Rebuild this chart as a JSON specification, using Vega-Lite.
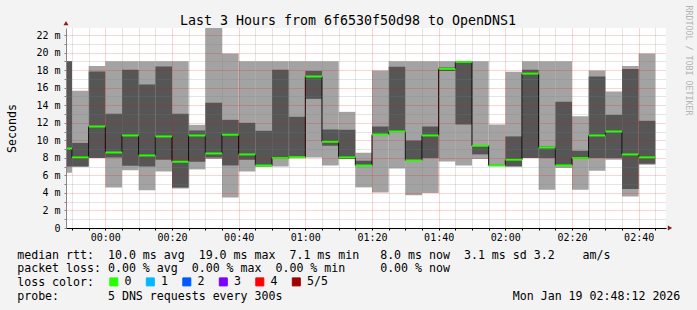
{
  "$schema": "https://vega.github.io/schema/vega-lite/v6.json",
  "width": 600,
  "height": 200,
  "autosize": {"type": "none"},
  "padding": {"left": 66, "top": 28, "right": 31, "bottom": 82},
  "background": "#f3f3f3",
  "config": {"view": {"fill": "#ffffff", "stroke": null}, "font": "DejaVu Sans Mono"},
  "datasets": {
    "smoke": [
      {"start": -15, "end": -10, "p1": 6.3, "p2": 7.0, "p3": 9.07, "p4": 19.0, "p5": 19.0, "loss": "0"},
      {"start": -10, "end": -5, "p1": 7.0, "p2": 7.0, "p3": 8.05, "p4": 9.7, "p5": 15.64, "loss": "0"},
      {"start": -5, "end": 0, "p1": 7.97, "p2": 7.97, "p3": 11.57, "p4": 17.84, "p5": 18.48, "loss": "0"},
      {"start": 0, "end": 5, "p1": 4.63, "p2": 8.05, "p3": 8.61, "p4": 13.02, "p5": 19.0, "loss": "0"},
      {"start": 5, "end": 10, "p1": 6.57, "p2": 7.1, "p3": 10.55, "p4": 18.03, "p5": 19.0, "loss": "0"},
      {"start": 10, "end": 15, "p1": 4.29, "p2": 7.02, "p3": 8.27, "p4": 16.36, "p5": 19.0, "loss": "0"},
      {"start": 15, "end": 20, "p1": 6.45, "p2": 7.78, "p3": 10.44, "p4": 18.4, "p5": 19.0, "loss": "0"},
      {"start": 20, "end": 25, "p1": 4.5, "p2": 4.63, "p3": 7.55, "p4": 13.02, "p5": 19.0, "loss": "0"},
      {"start": 25, "end": 30, "p1": 6.68, "p2": 7.55, "p3": 10.55, "p4": 11.12, "p5": 11.76, "loss": "0"},
      {"start": 30, "end": 35, "p1": 7.86, "p2": 8.05, "p3": 8.5, "p4": 14.27, "p5": 23.5, "loss": "0"},
      {"start": 35, "end": 40, "p1": 3.49, "p2": 7.13, "p3": 10.63, "p4": 12.33, "p5": 19.89, "loss": "0"},
      {"start": 40, "end": 45, "p1": 6.45, "p2": 7.78, "p3": 8.39, "p4": 11.99, "p5": 19.0, "loss": "0"},
      {"start": 45, "end": 50, "p1": 7.02, "p2": 7.02, "p3": 7.13, "p4": 11.08, "p5": 19.0, "loss": "0"},
      {"start": 50, "end": 55, "p1": 7.02, "p2": 7.97, "p3": 7.97, "p4": 18.03, "p5": 19.0, "loss": "0"},
      {"start": 55, "end": 60, "p1": 7.97, "p2": 7.97, "p3": 8.08, "p4": 12.68, "p5": 19.0, "loss": "0"},
      {"start": 60, "end": 65, "p1": 8.05, "p2": 14.72, "p3": 17.27, "p4": 17.91, "p5": 19.0, "loss": "0"},
      {"start": 65, "end": 70, "p1": 7.13, "p2": 9.37, "p3": 9.83, "p4": 11.23, "p5": 19.0, "loss": "0"},
      {"start": 70, "end": 75, "p1": 7.86, "p2": 7.86, "p3": 8.05, "p4": 11.2, "p5": 13.24, "loss": "0"},
      {"start": 75, "end": 80, "p1": 4.63, "p2": 7.13, "p3": 7.13, "p4": 7.67, "p5": 8.58, "loss": "0"},
      {"start": 80, "end": 85, "p1": 4.06, "p2": 10.66, "p3": 10.66, "p4": 11.57, "p5": 17.95, "loss": "0"},
      {"start": 85, "end": 90, "p1": 6.79, "p2": 11.0, "p3": 11.0, "p4": 18.37, "p5": 19.0, "loss": "0"},
      {"start": 90, "end": 95, "p1": 3.72, "p2": 7.7, "p3": 7.7, "p4": 9.98, "p5": 19.0, "loss": "0"},
      {"start": 95, "end": 100, "p1": 3.98, "p2": 7.97, "p3": 10.55, "p4": 11.57, "p5": 19.0, "loss": "0"},
      {"start": 100, "end": 105, "p1": 7.59, "p2": 17.9, "p3": 18.14, "p4": 18.3, "p5": 19.0, "loss": "0"},
      {"start": 105, "end": 110, "p1": 7.13, "p2": 11.8, "p3": 18.94, "p4": 19.0, "p5": 19.0, "loss": "0"},
      {"start": 110, "end": 115, "p1": 7.86, "p2": 8.39, "p3": 9.37, "p4": 9.4, "p5": 19.0, "loss": "0"},
      {"start": 115, "end": 120, "p1": 7.05, "p2": 7.13, "p3": 7.13, "p4": 7.2, "p5": 11.8, "loss": "0"},
      {"start": 120, "end": 125, "p1": 7.02, "p2": 7.02, "p3": 7.78, "p4": 10.44, "p5": 17.8, "loss": "0"},
      {"start": 125, "end": 130, "p1": 7.97, "p2": 7.97, "p3": 17.6, "p4": 18.03, "p5": 19.0, "loss": "0"},
      {"start": 130, "end": 135, "p1": 4.36, "p2": 7.97, "p3": 9.18, "p4": 9.3, "p5": 19.0, "loss": "0"},
      {"start": 135, "end": 140, "p1": 6.84, "p2": 7.14, "p3": 7.14, "p4": 14.4, "p5": 19.0, "loss": "0"},
      {"start": 140, "end": 145, "p1": 4.36, "p2": 7.97, "p3": 7.97, "p4": 8.8, "p5": 12.75, "loss": "0"},
      {"start": 145, "end": 150, "p1": 6.53, "p2": 7.97, "p3": 10.55, "p4": 17.27, "p5": 17.95, "loss": "0"},
      {"start": 150, "end": 155, "p1": 7.78, "p2": 7.97, "p3": 11.0, "p4": 12.9, "p5": 15.56, "loss": "0"},
      {"start": 155, "end": 160, "p1": 3.6, "p2": 4.44, "p3": 8.39, "p4": 18.14, "p5": 18.48, "loss": "0"},
      {"start": 160, "end": 165, "p1": 7.21, "p2": 7.32, "p3": 8.05, "p4": 12.22, "p5": 19.89, "loss": "0"}
    ],
    "arrows": [
      {"t": -11.8, "v": 23.36, "dir": "up"},
      {"t": 169.4, "v": 0, "dir": "right"}
    ]
  },
  "layer": [
    {
      "data": {"name": "smoke"},
      "mark": {"type": "rect", "clip": true, "color": "#a3a3a3"},
      "encoding": {
        "x": {
          "field": "start", "type": "quantitative",
          "scale": {"domain": [-11.8, 168.2], "nice": false, "zero": false},
          "axis": {
            "values": [-10, -5, 0, 5, 10, 15, 20, 25, 30, 35, 40, 45, 50, 55, 60, 65, 70, 75, 80, 85, 90, 95, 100, 105, 110, 115, 120, 125, 130, 135, 140, 145, 150, 155, 160, 165],
            "labelExpr": "(datum.value >= 0 && datum.value % 20 === 0) ? ('0' + floor(datum.value / 60) + ':' + (datum.value % 60 < 10 ? '0' : '') + (datum.value % 60)) : ''",
            "labelOverlap": false,
            "labelFont": "DejaVu Sans Mono", "labelFontSize": 10, "labelColor": "#000000", "labelPadding": 2,
            "tickSize": 2, "tickColor": "#000000", "domainColor": "#000000", "domainWidth": 1,
            "grid": true,
            "gridColor": {"condition": {"test": "datum.value % 20 === 0", "value": "#ff0000"}, "value": "#808080"},
            "gridOpacity": {"condition": {"test": "datum.value % 20 === 0", "value": 0.35}, "value": 0.4},
            "gridDash": [1, 1],
            "zindex": 1,
            "title": [
              "median\u00a0rtt:\u00a0\u00a010.0\u00a0ms\u00a0avg\u00a0\u00a019.0\u00a0ms\u00a0max\u00a0\u00a07.1\u00a0ms\u00a0min\u00a0\u00a0\u00a08.0\u00a0ms\u00a0now\u00a0\u00a03.1\u00a0ms\u00a0sd\u00a03.2\u00a0\u00a0\u00a0\u00a0am/s",
              "packet\u00a0loss:\u00a00.00\u00a0%\u00a0avg\u00a0\u00a00.00\u00a0%\u00a0max\u00a0\u00a00.00\u00a0%\u00a0min\u00a0\u00a0\u00a0\u00a0\u00a00.00\u00a0%\u00a0now",
              "loss\u00a0color:",
              "probe:\u00a0\u00a0\u00a0\u00a0\u00a0\u00a0\u00a05\u00a0DNS\u00a0requests\u00a0every\u00a0300s\u00a0\u00a0\u00a0\u00a0\u00a0\u00a0\u00a0\u00a0\u00a0\u00a0\u00a0\u00a0\u00a0\u00a0\u00a0\u00a0\u00a0\u00a0\u00a0\u00a0\u00a0\u00a0\u00a0\u00a0\u00a0\u00a0\u00a0\u00a0\u00a0\u00a0\u00a0\u00a0\u00a0Mon\u00a0Jan\u00a019\u00a002:48:12\u00a02026"
            ],
            "titleFont": "DejaVu Sans Mono", "titleFontSize": 11.6, "titleFontWeight": "normal", "titleColor": "#000000",
            "titleAlign": "left", "titleAnchor": "start", "titleBaseline": "alphabetic",
            "titleX": -49.3, "titleY": 30, "titleLineHeight": 13.77, "titleLimit": 2000
          }
        },
        "x2": {"field": "end"},
        "y": {
          "field": "p1", "type": "quantitative",
          "scale": {"domain": [0, 22.8], "nice": false, "zero": false},
          "axis": {
            "values": [0, 1, 2, 3, 4, 5, 6, 7, 8, 9, 10, 11, 12, 13, 14, 15, 16, 17, 18, 19, 20, 21, 22],
            "labelExpr": "datum.value % 2 === 0 ? (datum.value === 0 ? '0' : datum.value + ' m') : ''",
            "labelOverlap": false,
            "labelFont": "DejaVu Sans Mono", "labelFontSize": 10, "labelColor": "#000000", "labelPadding": 4,
            "tickSize": 2, "tickColor": "#808080", "domainColor": "#888888", "domainWidth": 1,
            "grid": true,
            "gridColor": {"condition": {"test": "datum.value % 2 === 0", "value": "#ff0000"}, "value": "#808080"},
            "gridOpacity": {"condition": {"test": "datum.value % 2 === 0", "value": 0.35}, "value": 0.4},
            "gridDash": [1, 1],
            "zindex": 1,
            "title": "Seconds",
            "titleFont": "DejaVu Sans Mono", "titleFontSize": 11.6, "titleFontWeight": "normal", "titleColor": "#000000",
            "titleAngle": 270, "titleAlign": "center", "titleBaseline": "alphabetic",
            "titleX": -51, "titleY": 100
          }
        },
        "y2": {"field": "p5"}
      }
    },
    {
      "data": {"name": "smoke"},
      "mark": {"type": "rect", "clip": true, "color": "#565656"},
      "encoding": {
        "x": {"field": "start", "type": "quantitative", "axis": null},
        "x2": {"field": "end"},
        "y": {"field": "p2", "type": "quantitative", "axis": null},
        "y2": {"field": "p4"}
      }
    },
    {
      "data": {"name": "smoke"},
      "mark": {"type": "line", "interpolate": "step-after", "clip": true, "color": "#000000", "strokeWidth": 1},
      "encoding": {
        "x": {"field": "start", "type": "quantitative", "axis": null},
        "y": {"field": "p3", "type": "quantitative", "axis": null}
      }
    },
    {
      "data": {"name": "smoke"},
      "mark": {"type": "rule", "clip": true, "strokeWidth": 2},
      "encoding": {
        "x": {"field": "start", "type": "quantitative", "axis": null},
        "x2": {"field": "end"},
        "y": {"field": "p3", "type": "quantitative", "axis": null},
        "color": {
          "field": "loss", "type": "nominal",
          "scale": {"domain": ["0", "1", "2", "3", "4", "5/5"], "range": ["#26ff00", "#00b8ff", "#0059ff", "#7e00ff", "#ff0000", "#a10000"]},
          "legend": {
            "orient": "none", "legendX": 42, "legendY": 248,
            "direction": "horizontal", "columns": 6, "title": null,
            "symbolType": "square", "symbolSize": 64, "symbolStrokeWidth": 1, "symbolStrokeColor": "#000000", "symbolOpacity": 1,
            "labelFont": "DejaVu Sans Mono", "labelFontSize": 11.6, "labelColor": "#000000", "labelOffset": 5,
            "columnPadding": 11.5, "rowPadding": 0, "padding": 0, "gridAlign": "each",
            "encode": {"symbols": {"update": {"fill": {"scale": "color", "field": "value"}, "stroke": {"value": "#000000"}, "strokeWidth": {"value": 1}, "opacity": {"value": 1}}}}
          }
        }
      }
    },
    {
      "data": {"name": "arrows"},
      "mark": {"type": "point", "filled": true, "color": "#8c1c1c", "size": 25, "opacity": 1, "clip": false},
      "encoding": {
        "x": {
          "field": "t", "type": "quantitative",
          "scale": {"domain": [-11.8, 168.2], "nice": false, "zero": false},
          "axis": {
            "orient": "top", "labels": false, "ticks": false, "domain": false, "grid": false,
            "title": "Last 3 Hours from 6f6530f50d98 to OpenDNS1",
            "titleFont": "DejaVu Sans Mono", "titleFontSize": 13.3, "titleFontWeight": "normal", "titleColor": "#000000",
            "titleAlign": "center", "titleBaseline": "alphabetic",
            "titleX": 281.5, "titleY": -4
          }
        },
        "y": {
          "field": "v", "type": "quantitative",
          "scale": {"domain": [0, 22.8], "nice": false, "zero": false},
          "axis": {
            "orient": "right", "labels": false, "ticks": false, "domain": false, "grid": false,
            "title": "RRDTOOL / TOBI OETIKER",
            "titleFont": "DejaVu Sans Mono", "titleFontSize": 8.3, "titleFontWeight": "normal", "titleColor": "#b4b4b4",
            "titleAngle": 90, "titleAlign": "left", "titleBaseline": "middle",
            "titleX": 21.5, "titleY": -23, "titleLimit": 1000
          }
        },
        "shape": {"field": "dir", "type": "nominal", "scale": {"domain": ["up", "right"], "range": ["triangle-up", "triangle-right"]}, "legend": null}
      }
    }
  ],
  "resolve": {"axis": {"x": "independent", "y": "independent"}}
}
